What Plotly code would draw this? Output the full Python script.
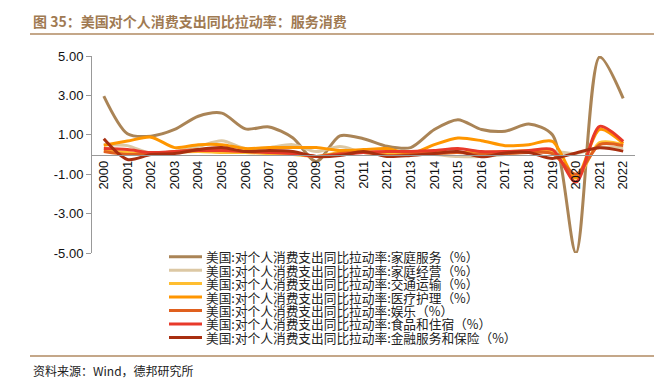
import plotly.graph_objects as go

years = list(range(2000, 2023))
tick_labels = [str(y) for y in years]

household_services = [2.96, 1.05, 0.93, 1.27, 1.94, 2.1, 1.3, 1.4, 0.85, -0.35, 0.95, 0.8, 0.42, 0.35, 1.27, 1.77, 1.27, 1.18, 1.55, 1.0, -5.0, 4.95, 2.85]
household_ops = [0.5, 0.45, 0.05, 0.15, 0.4, 0.7, 0.3, 0.35, 0.5, 0.15, 0.4, 0.1, 0.05, 0.05, 0.0, -0.1, -0.1, 0.0, 0.15, 0.18, 0.05, 0.35, 0.35]
transport = [0.2, 0.1, 0.0, 0.1, 0.15, 0.1, 0.1, 0.05, 0.0, -0.1, 0.1, 0.1, 0.1, 0.1, 0.1, 0.1, 0.1, 0.15, 0.2, 0.15, -1.2, 0.6, 0.5]
medical = [0.47, 0.68, 0.88, 0.35, 0.5, 0.5, 0.3, 0.35, 0.35, 0.35, 0.2, 0.25, 0.3, 0.05, 0.5, 0.84, 0.7, 0.45, 0.5, 0.67, -1.17, 1.27, 0.56]
recreation = [0.15, 0.0, 0.05, 0.15, 0.25, 0.3, 0.15, 0.15, 0.1, -0.1, 0.05, 0.1, -0.05, 0.0, 0.05, 0.1, 0.0, 0.05, 0.1, 0.05, -1.0, 0.5, 0.45]
food_accommodation = [0.3, 0.25, 0.1, 0.15, 0.2, 0.2, 0.15, 0.1, 0.05, -0.1, 0.0, 0.1, 0.15, 0.15, 0.2, 0.3, 0.15, 0.15, 0.2, 0.25, -1.4, 1.43, 0.67]
finance_insurance = [0.8, -0.25, 0.0, 0.05, 0.25, 0.35, 0.15, 0.2, 0.15, -0.1, -0.05, 0.15, -0.1, -0.05, 0.05, 0.15, -0.12, 0.08, 0.1, -0.2, 0.08, 0.34, 0.17]

prefix = "美国:对个人消费支出同比拉动率:"
series = [
    ("家庭服务（%）", household_services, "#AA8456"),
    ("家庭经营（%）", household_ops, "#DCC8A4"),
    ("交通运输（%）", transport, "#FFBE30"),
    ("医疗护理（%）", medical, "#FF9600"),
    ("娱乐（%）", recreation, "#E0601E"),
    ("食品和住宿（%）", food_accommodation, "#E8392A"),
    ("金融服务和保险（%）", finance_insurance, "#A82F10"),
]

# the page body has an 8px default margin; size the figure to fill the rest
OFF = 8
W, H = 662 - OFF, 380 - OFF
L, R, T, B = 92 - OFF, 27, 56 - OFF, 127
PW, PH = W - L - R, H - T - B


def px(x):
    return (x - OFF - L) / PW


def py(y):
    return (H - B - (y - OFF)) / PH


fig = go.Figure()
for name, vals, color in series:
    fig.add_trace(go.Scatter(
        x=years, y=vals, mode="lines", name=prefix + name, showlegend=False,
        line=dict(color=color, width=3, shape="spline", smoothing=0.8),
    ))

fig.update_layout(
    width=W, height=H,
    margin=dict(l=L, r=R, t=T, b=B, autoexpand=False),
    paper_bgcolor="white", plot_bgcolor="white",
    showlegend=False,
    font=dict(family="Liberation Sans, Arial", size=13, color="#111"),
)

fig.update_xaxes(
    range=[1999.5, 2022.5], tickmode="array", tickvals=years, ticktext=tick_labels,
    tickangle=-90, showgrid=False, zeroline=False, automargin=False,
    showline=True, linecolor="#999", linewidth=1,
    anchor="free", position=0.5, ticks="", tickfont=dict(size=13, color="#111"),
)
fig.update_yaxes(
    range=[-5, 5], tickvals=[5, 3, 1, -1, -3, -5], automargin=False,
    ticktext=["5.00", "3.00", "1.00", "-1.00", "-3.00", "-5.00"],
    showgrid=False, zeroline=False, showline=True, linecolor="#999", linewidth=1,
    ticks="outside", ticklen=5, tickcolor="#999", tickfont=dict(size=13, color="#111"),
)

# manual legend (tight row spacing as in the reference)
row_y0, row_dy = 256.7, 13.45
for i, (name, vals, color) in enumerate(series):
    yy = row_y0 + i * row_dy
    fig.add_shape(type="line", xref="paper", yref="paper",
                  x0=px(169), x1=px(202), y0=py(yy), y1=py(yy),
                  line=dict(color=color, width=3))
    fig.add_annotation(
        text=prefix + name, xref="paper", yref="paper",
        x=px(205), y=py(yy), xanchor="left", yanchor="middle", showarrow=False,
        borderpad=0,
        font=dict(family="Noto Sans CJK SC", size=12.7, color="#222"),
    )

fig.add_annotation(
    text="<b>图 35：美国对个人消费支出同比拉动率：服务消费</b>",
    xref="paper", yref="paper", x=px(31), y=py(21), xanchor="left", yanchor="middle",
    showarrow=False,
    font=dict(family="Noto Sans CJK SC", size=14, color="#A07A52"),
)
fig.add_shape(type="line", xref="paper", yref="paper", x0=px(30), x1=px(662), y0=py(34), y1=py(34),
              line=dict(color="#B08A62", width=1.5))
fig.add_shape(type="line", xref="paper", yref="paper", x0=px(30), x1=px(662), y0=py(356), y1=py(356),
              line=dict(color="#B08A62", width=1.5))
fig.add_annotation(
    text="资料来源：Wind，德邦研究所",
    xref="paper", yref="paper", x=px(31), y=py(370), xanchor="left", yanchor="middle",
    showarrow=False,
    font=dict(family="Noto Sans CJK SC", size=12, color="#222"),
)

fig.write_html("out.html")
